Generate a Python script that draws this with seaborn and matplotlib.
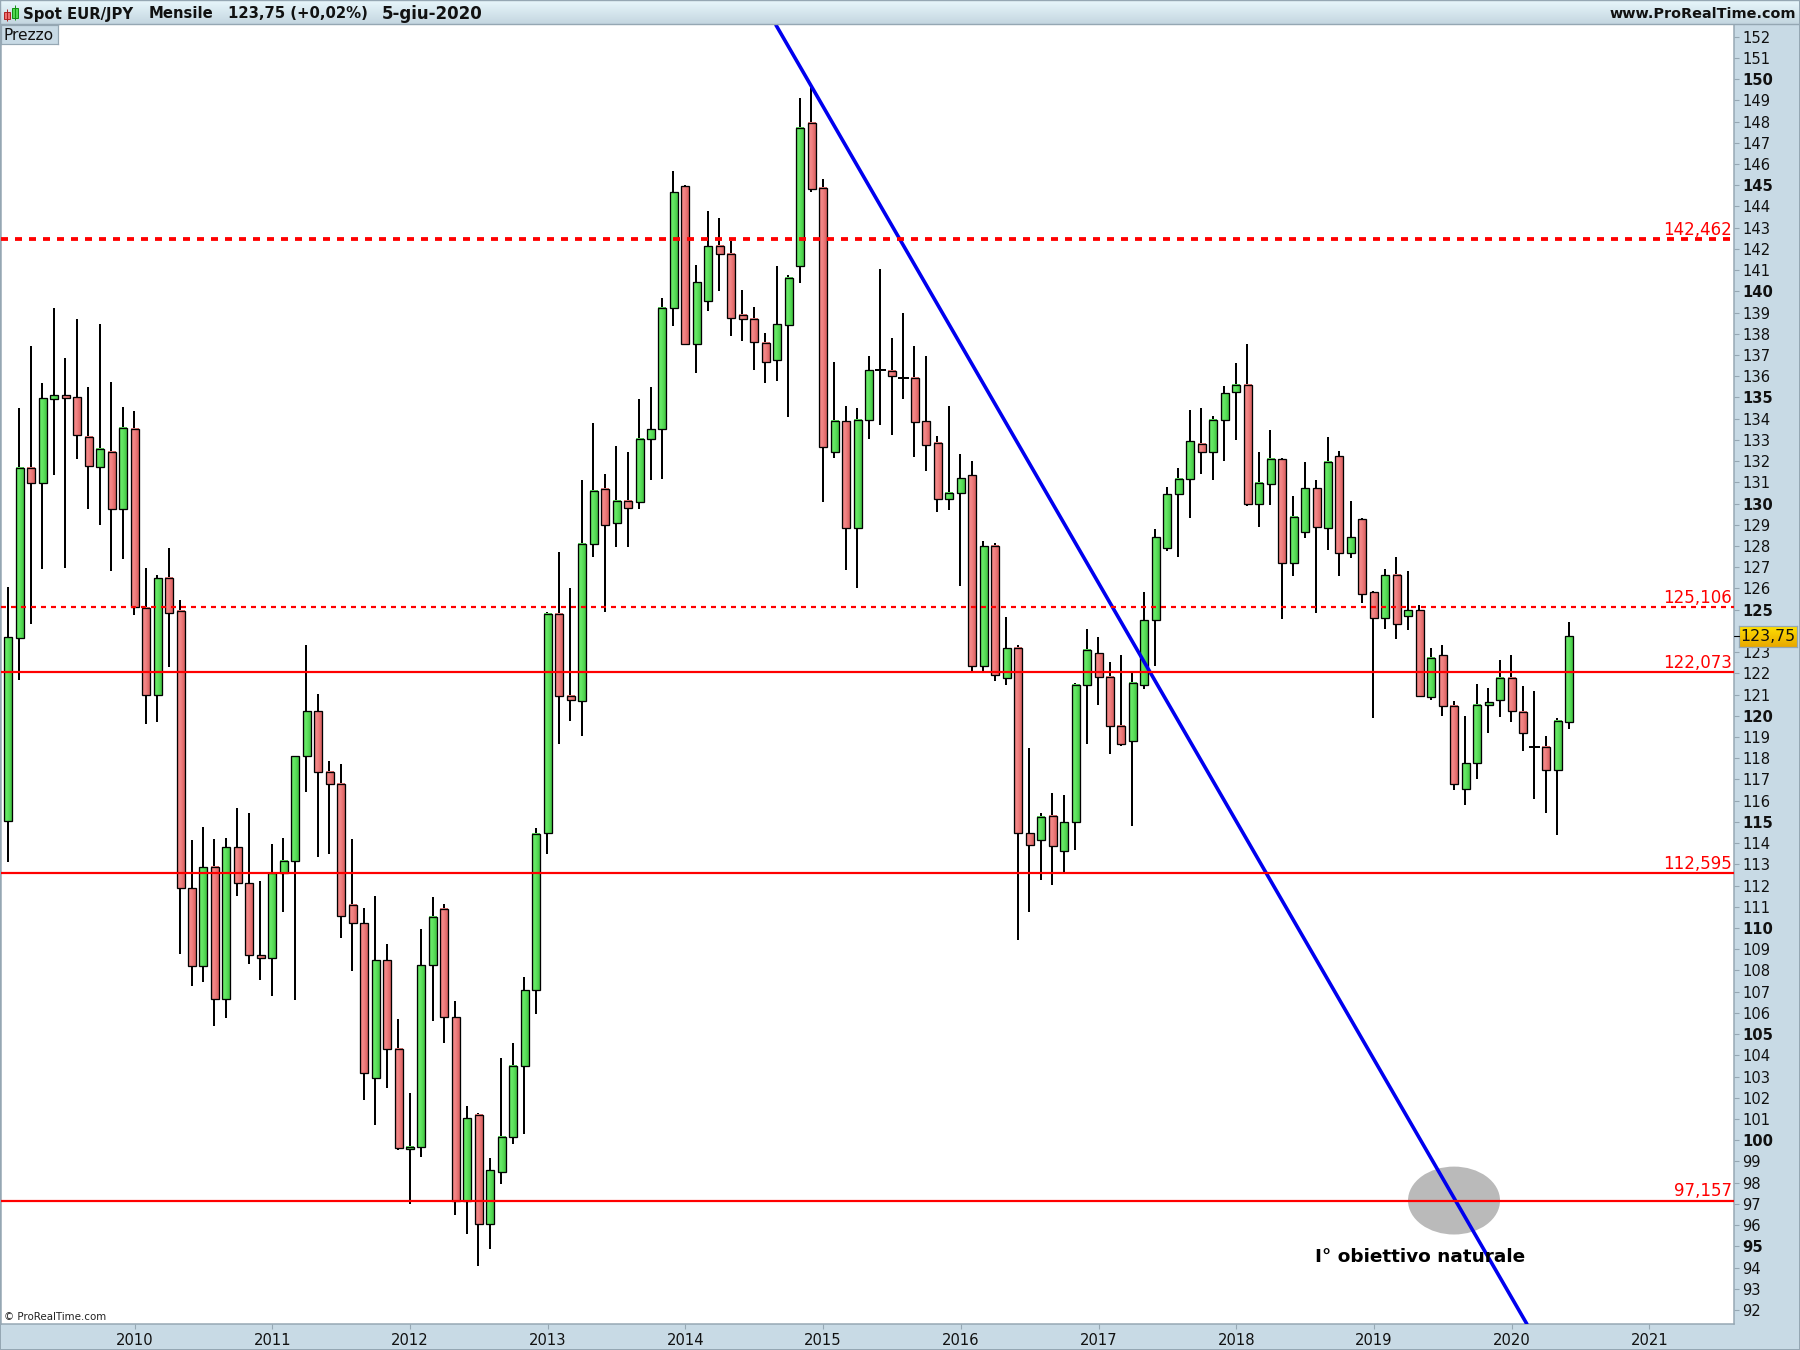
import numpy as np
import pandas as pd
import seaborn as sns
import matplotlib
matplotlib.use("Agg")
import matplotlib.pyplot as plt
from matplotlib.colors import LinearSegmentedColormap
from matplotlib.patches import Rectangle, Ellipse

# ---------- data ----------
opens = [115.04,123.66,131.68,130.97,134.93,135.11,135.02,133.14,131.72,132.43,
         129.74,133.51,125.08,120.98,126.49,124.94,111.88,108.23,112.87,106.65,
         113.81,112.12,108.73,108.59,112.59,113.16,118.10,120.22,117.35,116.78,
         111.08,110.23,102.93,108.49,104.30,99.58,99.70,108.25,110.89,105.80,
         97.13,101.19,96.05,98.50,100.15,103.50,107.08,114.49,124.81,120.93,
         120.69,128.09,130.69,129.08,130.12,130.07,133.04,133.51,139.22,144.97,
         137.52,139.55,142.14,141.76,138.89,138.70,137.57,136.77,138.43,141.19,
         147.93,144.89,132.41,133.89,128.85,133.94,136.29,136.25,135.92,135.92,
         133.89,132.85,130.21,130.50,131.35,122.35,128.00,121.78,123.19,114.47,
         114.14,115.28,113.63,114.99,121.45,122.96,121.83,119.52,118.81,121.45,
         124.51,127.91,130.45,131.16,132.81,132.43,133.94,135.26,135.59,129.98,
         130.92,132.10,127.20,128.66,130.73,128.85,132.24,127.67,129.27,125.83,
         124.61,126.63,124.70,124.98,120.88,122.86,120.46,116.55,117.77,120.51,
         120.74,121.78,120.18,118.53,118.53,117.44,119.71]
closes = [123.71,131.68,130.97,134.97,135.11,134.97,133.23,131.77,132.57,129.74,
          133.56,125.12,120.98,126.49,124.84,111.88,108.23,112.87,106.65,113.81,
          112.12,108.73,108.59,112.59,113.16,118.10,120.22,117.35,116.78,110.56,
          110.23,103.17,108.49,104.30,99.63,99.70,108.25,110.52,105.80,97.13,
          101.04,96.05,98.59,100.15,103.50,107.08,114.45,124.81,120.93,120.74,
          128.09,130.59,128.99,130.12,129.79,133.04,133.51,139.22,144.66,137.54,
          140.44,142.14,141.76,138.74,138.70,137.59,136.65,138.46,140.65,147.70,
          144.82,132.66,133.89,128.85,133.94,136.29,136.29,136.01,135.92,133.84,
          132.76,130.21,130.52,131.20,122.35,128.00,121.92,123.19,114.47,113.91,
          115.23,113.86,114.99,121.45,123.10,121.83,119.52,118.67,121.55,124.51,
          128.42,130.45,131.16,132.95,132.43,133.94,135.21,135.59,129.98,130.97,
          132.10,127.20,129.37,130.73,128.90,131.96,127.67,128.42,125.74,124.61,
          126.63,124.32,124.98,120.93,122.72,120.46,116.78,117.77,120.51,120.65,
          121.78,120.22,119.19,118.53,117.44,119.75,123.75]
highs = [126.07,134.50,137.42,135.68,139.22,136.86,138.70,135.49,138.46,135.73,
         134.55,134.36,126.96,126.63,127.91,125.46,114.14,114.76,114.19,114.24,
         115.65,115.42,112.21,113.96,114.24,118.10,123.33,121.03,117.87,117.73,
         114.19,110.94,111.53,109.24,105.71,102.22,109.95,111.46,111.11,106.56,
         101.63,101.30,99.18,103.87,104.58,107.69,114.69,124.91,127.70,126.02,
         131.11,133.80,131.39,132.71,132.43,134.93,135.49,139.69,145.67,145.01,
         141.24,143.79,143.46,142.37,140.06,139.26,138.04,141.19,140.77,149.11,
         149.68,145.29,136.67,134.60,134.50,136.95,141.05,137.80,138.98,137.42,
         136.95,133.18,134.60,132.35,132.01,128.24,128.14,124.65,123.33,118.48,
         115.42,116.36,116.27,121.55,124.09,123.71,122.53,122.86,122.01,125.83,
         128.80,130.78,131.68,134.41,134.50,134.13,135.54,136.62,137.52,132.43,
         133.47,132.15,130.36,131.96,131.11,133.14,132.47,130.12,129.32,125.88,
         126.91,127.48,126.82,125.22,123.19,123.33,120.69,119.99,121.50,121.31,
         122.63,122.86,121.40,121.17,119.05,119.89,124.42]
lows = [113.11,121.68,124.32,126.91,131.35,126.96,132.10,129.74,128.99,126.82,
        127.39,124.75,119.61,119.71,122.30,108.77,107.26,107.45,105.38,105.76,
        111.53,108.30,107.55,106.79,110.75,106.61,116.41,113.34,113.49,109.53,
        107.97,101.89,100.72,102.46,99.54,96.99,99.21,105.62,104.58,96.47,
        95.60,94.07,94.87,97.93,99.82,100.29,105.95,113.49,118.67,119.75,
        119.05,127.46,124.89,127.95,127.93,129.74,131.11,131.16,138.37,137.49,
        136.15,139.07,140.02,137.89,137.66,136.29,135.68,135.78,134.08,140.37,
        144.68,130.07,132.17,126.87,126.04,133.06,133.70,133.23,134.95,132.19,
        131.53,129.60,129.70,126.11,122.11,122.11,121.64,121.45,109.43,110.75,
        112.26,112.02,112.59,113.67,118.67,120.51,118.20,118.57,114.80,121.26,
        122.35,127.77,127.48,129.32,131.39,131.11,132.01,133.00,129.88,128.90,
        129.93,124.56,126.59,128.38,124.84,127.81,126.59,127.43,125.31,119.89,
        124.09,123.62,124.04,120.93,120.74,119.99,116.50,115.79,117.02,119.19,
        119.94,119.71,118.34,116.07,115.42,114.38,119.38]

level_values = [142.462, 125.106, 122.073, 112.595, 97.157]
level_labels = ["142,462", "125,106", "122,073", "112,595", "97,157"]
year_labels = ["2010","2011","2012","2013","2014","2015","2016","2017","2018","2019","2020","2021"]
year_index = [11, 23, 35, 47, 59, 71, 83, 95, 107, 119, 131, 143]
price_ticks = [v for v in range(92, 153) if v != 124]
trend_x = [66.89, 132.33]
trend_y = [152.55, 91.34]
last_price = 123.75
zone_centre = (125.98, 97.157)
zone_size = (8.02, 3.2)

# ---------- style ----------
sns.set_theme(style="white")
plt.rcParams["font.family"] = ["DejaVu Sans"]
PANEL = "#c8dae5"
EDGE = "#95a7b3"
W, H = 1800, 1350
fig = plt.figure(figsize=(W/100, H/100), dpi=100, facecolor=PANEL)

def fx(px): return px / W
def fy(py): return 1 - py / H
def px2pt(px): return px * 0.72

L, R, T, B = 1, 1734, 25, 1324
ax = fig.add_axes([fx(L), fy(B), fx(R - L), (B - T) / H], facecolor="white")

df = pd.DataFrame({"open": opens, "high": highs, "low": lows, "close": closes})
df["i"] = np.arange(len(df))

cm_up = LinearSegmentedColormap.from_list("up", ["#58dc58", "#68ea68", "#56dc56", "#42c442"])
cm_dn = LinearSegmentedColormap.from_list("dn", ["#e87474", "#f48a8a", "#ea7676", "#d85f5f"])
grad = np.linspace(0, 1, 32).reshape(1, -1)
bw = 8.0 / 11.475

ax.add_patch(Ellipse(zone_centre, zone_size[0], zone_size[1], facecolor="#bababa",
                     edgecolor="none", zorder=1))
ax.vlines(df["i"] - 0.04, df["low"], df["high"], color="black", lw=px2pt(2.0), zorder=2)
for r in df.itertuples():
    lo, hi = min(r.open, r.close), max(r.open, r.close)
    if hi - lo < 1e-6:
        ax.hlines(hi, r.i - 0.5, r.i + 0.5, color="black", lw=px2pt(2), zorder=3)
        continue
    ax.imshow(grad, extent=[r.i - bw/2, r.i + bw/2, lo, hi], aspect="auto",
              cmap=cm_up if r.close > r.open else cm_dn, zorder=3, interpolation="bilinear")
    ax.add_patch(Rectangle((r.i - bw/2, lo), bw, hi - lo, facecolor="none",
                           edgecolor="black", lw=px2pt(1.3), zorder=3.5))

sns.lineplot(x=trend_x, y=trend_y, ax=ax, color="#0000ee", lw=px2pt(3.6), zorder=4,
             errorbar=None, legend=False)

red = "#ff0000"
ax.axhline(level_values[0], color=red, lw=px2pt(3.8), dashes=(7/3.8, 7/3.8), zorder=5)
ax.axhline(level_values[1], color=red, lw=px2pt(2.2), dashes=(5/2.2, 5/2.2), zorder=5)
for v in level_values[2:]:
    ax.axhline(v, color=red, lw=px2pt(2.2), zorder=5)

ax.set_xlim(-0.645, 150.38)
ax.set_ylim(91.34, 152.55)

for v, s in zip(level_values, level_labels):
    ax.annotate(s, (1, v), xycoords=("axes fraction", "data"), xytext=(-1.5, 0.2),
                textcoords="offset points", ha="right", va="bottom", color=red,
                fontsize=12.0, zorder=6)

ax.text(zone_centre[0] - 3.0, 94.52, "I° obiettivo naturale", fontsize=13.3, fontweight="bold",
        color="black", ha="center", va="center", zorder=7)
ax.text(3 / (R - L), 6.5 / (B - T), "© ProRealTime.com", transform=ax.transAxes, fontsize=7.4,
        color="#222222", ha="left", va="center", zorder=7)

# axes furniture
ax.yaxis.tick_right()
ax.set_yticks(price_ticks)
ax.set_yticklabels([str(v) for v in price_ticks])
for lab, v in zip(ax.get_yticklabels(), price_ticks):
    lab.set_fontweight("bold" if v % 5 == 0 else "normal")
    lab.set_fontsize(10.6)
    lab.set_color("#111111")
ax.set_xticks(year_index)
ax.set_xticklabels(year_labels, fontsize=10.6, color="#111111")
ax.tick_params(axis="y", length=px2pt(5), width=0.8, color=EDGE, pad=px2pt(3), left=False, right=True)
ax.tick_params(axis="x", length=px2pt(5), width=0.8, color=EDGE, pad=px2pt(4), bottom=True)
for s in ax.spines.values():
    s.set_color(EDGE)
    s.set_linewidth(px2pt(1.5))
ax.spines["top"].set_visible(False)
ax.set_xlabel("")
ax.set_ylabel("")

# header bar
hd = fig.add_axes([0, fy(24), 1, 24 / H], zorder=5)
hd.imshow(np.linspace(0, 1, 64).reshape(-1, 1), aspect="auto", extent=[0, W, 24, 0],
          cmap=LinearSegmentedColormap.from_list("hd", ["#e8f7fc", "#c4d6e0"]))
hd.set_xlim(0, W); hd.set_ylim(24, 0)
hd.set_xticks([]); hd.set_yticks([])
for k, s in hd.spines.items():
    s.set_color(EDGE); s.set_linewidth(px2pt(1.4))
hd.add_patch(Rectangle((3.5, 12), 6, 7, fc="#ee7070", ec="#b02020", lw=0.7))
hd.vlines(6.5, 9, 21, color="#b02020", lw=0.7, zorder=1)
hd.add_patch(Rectangle((11.5, 8), 6, 10, fc="#50d850", ec="#109010", lw=0.7))
hd.vlines(14.5, 5, 20, color="#109010", lw=0.7, zorder=1)
head = dict(fontsize=10.7, fontweight="bold", color="#111111", va="center", ha="left")
hd.text(23, 14, "Spot EUR/JPY", **head)
hd.text(149, 14, "Mensile", **head)
hd.text(228, 14, "123,75 (+0,02%)", **head)
hd.text(382, 14, "5-giu-2020", fontsize=12.0, fontweight="bold", color="#111111", va="center", ha="left")
hd.text(1796, 14, "www.ProRealTime.com", fontsize=10.4, fontweight="bold", color="#111111",
        va="center", ha="right")

# series tag
pz = fig.add_axes([fx(1), fy(44), 57 / W, 19 / H], zorder=6, facecolor=PANEL)
pz.set_xticks([]); pz.set_yticks([])
for s in pz.spines.values():
    s.set_color(EDGE); s.set_linewidth(px2pt(1.2))
pz.text(0.04, 0.47, "Prezzo", ha="left", va="center", fontsize=11.2, color="#111111",
        transform=pz.transAxes)

# last price tag
py = 36.7 + (152 - last_price) * 21.22
tg = fig.add_axes([fx(1739), fy(py + 10.5), 58 / W, 21 / H], zorder=6)
tg.imshow(np.linspace(0, 1, 32).reshape(-1, 1), aspect="auto", extent=[0, 1, 0, 1],
          cmap=LinearSegmentedColormap.from_list("tg", ["#ffe000", "#e8a800"]))
tg.set_xticks([]); tg.set_yticks([])
for s in tg.spines.values():
    s.set_color(EDGE); s.set_linewidth(px2pt(1.2))
tg.text(0.5, 0.47, f"{last_price:.2f}".replace(".", ","), ha="center", va="center",
        fontsize=11.3, color="#111111", transform=tg.transAxes)
fig.add_artist(plt.Line2D([fx(R), fx(R + 5)], [fy(py), fy(py)], color="black", lw=0.8, zorder=7))

# outer frame
fig.add_artist(Rectangle((0, 0), 1, 1, transform=fig.transFigure, fc="none", ec=EDGE,
                         lw=px2pt(2), zorder=8))

fig.savefig("out.png", dpi=100, facecolor=fig.get_facecolor())
